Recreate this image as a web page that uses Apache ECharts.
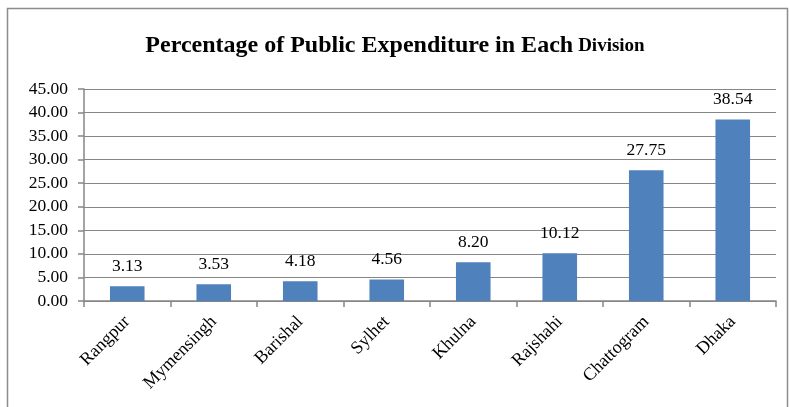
<!DOCTYPE html>
<html><head><meta charset="utf-8">
<script src="https://cdn.jsdelivr.net/npm/echarts@6/dist/echarts.min.js"></script>
<style>html,body{margin:0;padding:0;background:#fff}#c{width:790px;height:407px}</style>
</head><body><div id="c"></div>
<script>
const categories = ["Rangpur","Mymensingh","Barishal","Sylhet","Khulna","Rajshahi","Chattogram","Dhaka"];
const values = [3.13,3.53,4.18,4.56,8.20,10.12,27.75,38.54];
const yMin = 0, yMax = 45, yStep = 5;
const serif = '"Liberation Serif","Times New Roman",serif';
const chart = echarts.init(document.getElementById('c'));
chart.setOption({
  animation:false,
  title:{
    text:'{a|Percentage of Public Expenditure in Each} {b|Division}',
    left:'center', top:29,
    textStyle:{rich:{
      a:{fontFamily:serif,fontWeight:'bold',fontSize:24,color:'#000'},
      b:{fontFamily:serif,fontWeight:'bold',fontSize:19,color:'#000'}
    }}
  },
  graphic:[{type:'rect',shape:{x:7.5,y:8.5,width:780,height:420},style:{fill:'none',stroke:'#8c8c8c',lineWidth:1.5},silent:true}],
  grid:{left:84,right:14,top:89,bottom:106,containLabel:false},
  xAxis:{
    type:'category',data:categories,
    axisLine:{lineStyle:{color:'#868686',width:1.5}},
    axisTick:{show:true,alignWithLabel:false,length:6,lineStyle:{color:'#868686',width:1.5}},
    axisLabel:{rotate:45,interval:0,fontFamily:serif,fontSize:18,color:'#000',margin:18}
  },
  yAxis:{
    type:'value',min:yMin,max:yMax,interval:yStep,
    axisLine:{show:true,lineStyle:{color:'#868686',width:1.5}},
    axisTick:{show:true,length:6,lineStyle:{color:'#868686',width:1.5}},
    splitLine:{lineStyle:{color:'#868686',width:1.2}},
    axisLabel:{formatter:v=>v.toFixed(2),fontFamily:serif,fontSize:17.5,color:'#000',margin:16}
  },
  series:[{
    type:'bar',data:values,barWidth:'40%',
    itemStyle:{color:'#4F81BD'},
    label:{show:true,position:'top',distance:11,formatter:p=>p.value.toFixed(2),fontFamily:serif,fontSize:17.5,color:'#000'}
  }]
});
</script></body></html>
